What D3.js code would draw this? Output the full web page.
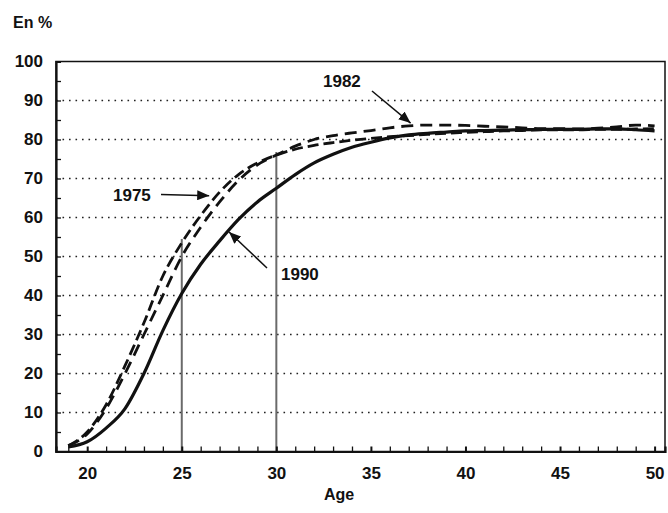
<!DOCTYPE html>
<html>
<head>
<meta charset="utf-8">
<script src="https://cdn.jsdelivr.net/npm/d3@7"></script>
<style>
  html, body { margin: 0; padding: 0; background: #fff; }
  svg text { font-family: "Liberation Sans", Arial, Helvetica, sans-serif; font-weight: bold; fill: #111; }
</style>
</head>
<body>
<svg id="chart" width="668" height="513"></svg>
<script>
// ---- data ----
const ages = [19,20,21,22,23,24,25,26,27,28,29,30,31,32,33,34,35,36,37,38,39,40,41,42,43,44,45,46,47,48,49,50];
const series1975 = [1.5,5,12,22,33,45,53.5,60.5,66.5,71,74,76,77.5,78.5,79.2,79.8,80.3,80.7,81,81.3,81.6,81.8,82,82.2,82.3,82.5,82.5,82.5,82.6,82.6,82.7,82.8];
const series1982 = [1.5,4.5,11,20,30,40,50,57.5,64,69.5,73.5,76,78.3,80,81,81.7,82.3,83,83.5,83.7,83.7,83.6,83.4,83.2,83,82.8,82.8,82.7,82.9,83.2,83.7,83.5];
const series1990 = [1.2,2.5,6,11,20,31,40.5,48,54,59.5,64,67.5,71,74,76.2,78,79.3,80.4,81.2,81.6,81.9,82.2,82.3,82.4,82.5,82.6,82.6,82.6,82.7,82.7,82.5,82.2];
const seriesNames = ["1975","1982","1990"];
const yTickValues = [0,10,20,30,40,50,60,70,80,90,100];
const xTickValues = [20,25,30,35,40,45,50];
const dropAges = [25,30];
const dropTops = [54.5,76.8];
const yUnitLabel = "En %";
const xAxisLabel = "Age";

// ---- layout ----
const svg = d3.select("#chart");
const pL = 56, pR = 665, pT = 61.5, pB = 451.5;
const x = d3.scaleLinear().domain([18.35, 50.55]).range([pL, pR]);
const y = d3.scaleLinear().domain([0, 100]).range([pB, pT]);

// gridlines (dotted)
svg.append("g").selectAll("line")
  .data(yTickValues.filter(v => v > 0 && v < 100))
  .join("line")
  .attr("x1", pL).attr("x2", pR)
  .attr("y1", d => y(d)).attr("y2", d => y(d))
  .attr("stroke", "#222").attr("stroke-width", 1.6)
  .attr("stroke-dasharray", "1.6,4.9");

// drop lines
svg.append("g").selectAll("line")
  .data(dropAges.map((a, i) => ({a, t: dropTops[i]})))
  .join("line")
  .attr("x1", d => x(d.a)).attr("x2", d => x(d.a))
  .attr("y1", y(0)).attr("y2", d => y(d.t))
  .attr("stroke", "#6a6a6a").attr("stroke-width", 2);

// frame
svg.append("rect").attr("x", pL).attr("y", pT)
  .attr("width", pR - pL).attr("height", pB - pT)
  .attr("fill", "none").attr("stroke", "#111").attr("stroke-width", 1.5);

// x axis
const xMinor = d3.range(19, 51);
const xAxis = d3.axisBottom(x).tickValues(xMinor).tickSize(-5).tickPadding(15)
  .tickFormat(d => xTickValues.includes(d) ? d : "");
const gx = svg.append("g").attr("transform", `translate(0,${pB})`).call(xAxis);
gx.select(".domain").attr("stroke", "#111").attr("stroke-width", 2.2);
gx.selectAll(".tick line").attr("stroke", "#111").attr("stroke-width", d => xTickValues.includes(d) ? 2 : 1.3);
gx.selectAll("text").attr("font-size", 17).attr("fill", "#111").style("font-weight", "bold");

// y axis
const yMinor = d3.range(0, 101, 5);
const yAxis = d3.axisLeft(y).tickValues(yMinor).tickSize(-5).tickPadding(13)
  .tickFormat(d => yTickValues.includes(d) ? d : "");
const gy = svg.append("g").attr("transform", `translate(${pL},0)`).call(yAxis);
gy.select(".domain").attr("stroke", "#111").attr("stroke-width", 2.2);
gy.selectAll(".tick line").attr("stroke", "#111").attr("stroke-width", 1.3);
gy.selectAll("text").attr("font-size", 17).attr("fill", "#111").style("font-weight", "bold");

// curves
const line = d3.line().x(d => x(d[0])).y(d => y(d[1])).curve(d3.curveMonotoneX);
const seriesData = [series1975, series1982, series1990];
const dashes = ["11,5", "12,7", null];
const widths = [2.8, 2.8, 3.2];
seriesData.forEach((s, i) => {
  svg.append("path")
    .datum(ages.map((a, j) => [a, s[j]]))
    .attr("d", line)
    .attr("fill", "none")
    .attr("stroke", "#111")
    .attr("stroke-width", widths[i])
    .attr("stroke-dasharray", dashes[i])
    .attr("stroke-linejoin", "round");
});

// arrow marker
svg.append("defs").append("marker")
  .attr("id", "arr").attr("viewBox", "0 0 12 10")
  .attr("refX", 12).attr("refY", 5)
  .attr("markerWidth", 12).attr("markerHeight", 10)
  .attr("markerUnits", "userSpaceOnUse")
  .attr("orient", "auto")
  .append("path").attr("d", "M0,0 L12,5 L0,10 Z").attr("fill", "#111");

// annotations
const notes = [
  {name: seriesNames[0], tx: 113, ty: 201, x1: 161, y1: 194.5, age: 26.45, val: 65.6},
  {name: seriesNames[1], tx: 323, ty: 87,  x1: 372, y1: 91,    age: 37.1,  val: 84.2},
  {name: seriesNames[2], tx: 281, ty: 280, x1: 267, y1: 268,   age: 27.5,  val: 56.3}
];
notes.forEach(n => {
  svg.append("text").attr("x", n.tx).attr("y", n.ty).attr("font-size", 17).text(n.name);
  svg.append("line").attr("x1", n.x1).attr("y1", n.y1)
    .attr("x2", x(n.age)).attr("y2", y(n.val))
    .attr("stroke", "#111").attr("stroke-width", 1.5)
    .attr("marker-end", "url(#arr)");
});

// axis titles
svg.append("text").attr("x", 13).attr("y", 28).attr("font-size", 16).text(yUnitLabel);
svg.append("text").attr("x", 339).attr("y", 500).attr("text-anchor", "middle").attr("font-size", 16).text(xAxisLabel);
</script>
</body>
</html>
